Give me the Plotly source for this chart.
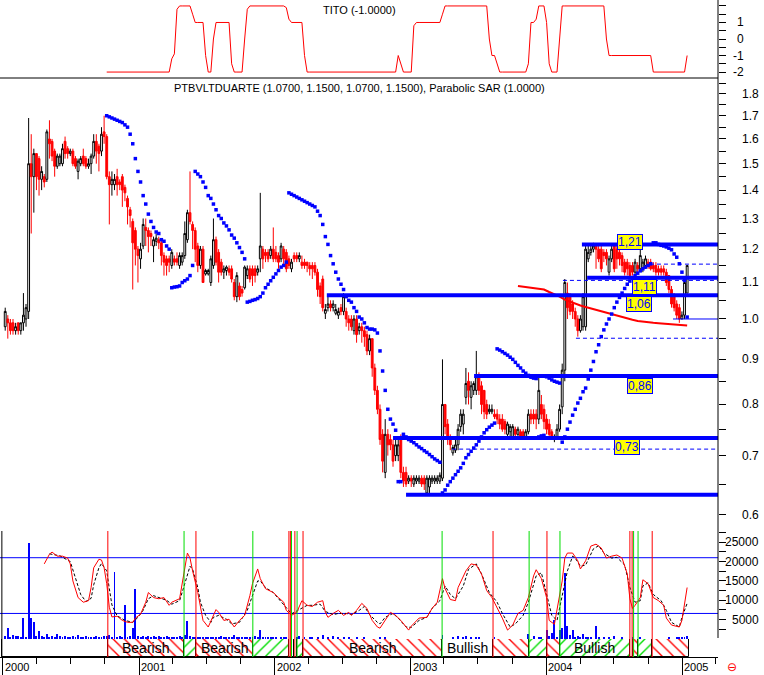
"""Weekly candlestick chart of PTBVLTDUARTE with TITO, Parabolic SAR and oscillator panels."""

import numpy as np
import pandas as pd
import plotly.graph_objects as go

# ---------------------------------------------------------------- data
week0 = "2000-01-07"
n_weeks = 263

price_open = [
    0.98, 1.00, 0.99, 0.99, 0.97, 0.99, 0.97, 0.99, 1.00, 1.02, 1.50, 1.45, 1.54,
    1.52, 1.44, 1.45, 1.44, 1.60, 1.59, 1.55, 1.49, 1.50, 1.50, 1.59, 1.56, 1.54,
    1.55, 1.52, 1.47, 1.50, 1.53, 1.52, 1.49, 1.50, 1.53, 1.59, 1.57, 1.55, 1.63,
    1.61, 1.45, 1.42, 1.42, 1.45, 1.43, 1.45, 1.41, 1.37, 1.33, 1.29, 1.26, 1.20,
    1.17, 1.21, 1.27, 1.26, 1.25, 1.21, 1.225, 1.23, 1.22, 1.18, 1.17, 1.17, 1.15,
    1.17, 1.17, 1.15, 1.16, 1.18, 1.23, 1.32, 1.28, 1.26, 1.21, 1.15, 1.20, 1.125,
    1.125, 1.10, 1.15, 1.23, 1.19, 1.16, 1.13, 1.135, 1.14, 1.14, 1.10, 1.06, 1.09,
    1.08, 1.085, 1.12, 1.14, 1.14, 1.14, 1.13, 1.17, 1.20, 1.19, 1.19, 1.18, 1.20,
    1.19, 1.18, 1.17, 1.20, 1.19, 1.17, 1.14, 1.18, 1.18, 1.17, 1.16, 1.16, 1.16,
    1.15, 1.15, 1.15, 1.13, 1.09, 1.11, 1.015, 1.03, 1.04, 1.03, 1.015, 1.01, 1.03,
    1.02, 1.02, 1.00, 1.00, 0.97, 1.00, 0.97, 0.98, 0.97, 0.96, 0.92, 0.95, 0.88,
    0.83, 0.79, 0.74, 0.67, 0.74, 0.73, 0.72, 0.70, 0.70, 0.73, 0.67, 0.67, 0.655,
    0.66, 0.65, 0.655, 0.655, 0.66, 0.66, 0.635, 0.645, 0.655, 0.655, 0.655, 0.655, 0.66,
    0.80, 0.76, 0.73, 0.705, 0.71, 0.72, 0.755, 0.76, 0.815, 0.85, 0.815, 0.83, 0.83,
    0.86, 0.84, 0.83, 0.80, 0.785, 0.785, 0.78, 0.78, 0.77, 0.77, 0.765, 0.74, 0.745,
    0.735, 0.75, 0.74, 0.745, 0.745, 0.735, 0.745, 0.78, 0.78, 0.78, 0.77, 0.80, 0.79,
    0.77, 0.76, 0.745, 0.73, 0.735, 0.75, 0.795, 0.875, 1.07, 1.06, 1.04, 1.02, 1.00,
    0.97, 0.98, 0.98, 1.17, 1.19, 1.20, 1.21, 1.20, 1.20, 1.19, 1.19, 1.13, 1.17,
    1.21, 1.20, 1.19, 1.18, 1.16, 1.16, 1.15, 1.15, 1.13, 1.15, 1.14, 1.14, 1.15,
    1.16, 1.16, 1.15, 1.15, 1.14, 1.14, 1.14, 1.13, 1.12, 1.08, 1.06, 1.04, 1.03,
    1.00, 1.01, 1.07,
]
price_high = [
    1.03, 1.01, 1.00, 1.00, 0.99, 0.99, 0.99, 1.07, 1.04, 1.69, 1.62, 1.56, 1.54,
    1.53, 1.49, 1.46, 1.64, 1.68, 1.60, 1.56, 1.54, 1.54, 1.58, 1.61, 1.57, 1.56,
    1.56, 1.53, 1.52, 1.53, 1.56, 1.53, 1.52, 1.54, 1.62, 1.62, 1.58, 1.65, 1.70,
    1.62, 1.47, 1.47, 1.46, 1.48, 1.44, 1.46, 1.42, 1.38, 1.34, 1.30, 1.27, 1.21,
    1.22, 1.30, 1.30, 1.27, 1.26, 1.24, 1.25, 1.24, 1.23, 1.19, 1.18, 1.18, 1.20,
    1.18, 1.19, 1.19, 1.19, 1.29, 1.33, 1.47, 1.29, 1.27, 1.22, 1.21, 1.21, 1.14,
    1.14, 1.18, 1.30, 1.24, 1.20, 1.17, 1.15, 1.15, 1.15, 1.15, 1.11, 1.13, 1.10,
    1.09, 1.15, 1.15, 1.15, 1.15, 1.15, 1.15, 1.39, 1.21, 1.20, 1.20, 1.21, 1.27,
    1.21, 1.19, 1.22, 1.21, 1.20, 1.18, 1.17, 1.19, 1.19, 1.19, 1.18, 1.17, 1.16,
    1.16, 1.16, 1.16, 1.14, 1.10, 1.12, 1.04, 1.06, 1.05, 1.05, 1.04, 1.03, 1.04,
    1.07, 1.03, 1.01, 1.01, 1.01, 1.01, 0.99, 0.99, 0.98, 0.97, 0.96, 0.95, 0.89,
    0.84, 0.80, 0.75, 0.77, 0.75, 0.74, 0.73, 0.73, 0.73, 0.74, 0.68, 0.68, 0.665,
    0.665, 0.665, 0.665, 0.665, 0.665, 0.665, 0.665, 0.665, 0.665, 0.665, 0.665, 0.67, 0.90,
    0.80, 0.77, 0.74, 0.72, 0.73, 0.76, 0.79, 0.79, 0.88, 0.87, 0.85, 0.85, 0.92,
    0.87, 0.85, 0.83, 0.81, 0.80, 0.80, 0.79, 0.79, 0.78, 0.78, 0.77, 0.765, 0.76,
    0.76, 0.755, 0.755, 0.75, 0.75, 0.75, 0.79, 0.79, 0.79, 0.79, 0.86, 0.82, 0.80,
    0.78, 0.77, 0.75, 0.74, 0.76, 0.80, 0.89, 1.11, 1.10, 1.07, 1.05, 1.03, 1.01,
    1.01, 1.07, 1.21, 1.21, 1.21, 1.22, 1.21, 1.21, 1.21, 1.20, 1.20, 1.18, 1.21,
    1.21, 1.21, 1.20, 1.19, 1.17, 1.17, 1.16, 1.16, 1.17, 1.16, 1.21, 1.17, 1.18,
    1.17, 1.17, 1.16, 1.16, 1.15, 1.15, 1.15, 1.14, 1.12, 1.09, 1.07, 1.05, 1.04,
    1.02, 1.11, 1.15,
]
price_low = [
    0.97, 0.95, 0.96, 0.96, 0.96, 0.96, 0.96, 0.97, 0.98, 1.00, 1.25, 1.32, 1.40,
    1.38, 1.40, 1.41, 1.43, 1.52, 1.51, 1.45, 1.48, 1.49, 1.49, 1.52, 1.52, 1.53,
    1.49, 1.48, 1.44, 1.49, 1.49, 1.48, 1.48, 1.46, 1.52, 1.50, 1.47, 1.53, 1.58,
    1.44, 1.28, 1.38, 1.40, 1.38, 1.40, 1.34, 1.36, 1.28, 1.27, 1.08, 1.15, 1.10,
    1.14, 1.20, 1.21, 1.19, 1.21, 1.16, 1.21, 1.20, 1.15, 1.12, 1.12, 1.13, 1.14,
    1.15, 1.15, 1.14, 1.15, 1.17, 1.22, 1.28, 1.20, 1.16, 1.13, 1.14, 1.10, 1.12,
    1.12, 1.09, 1.14, 1.15, 1.10, 1.12, 1.11, 1.12, 1.12, 1.10, 1.05, 1.045, 1.05,
    1.06, 1.08, 1.11, 1.10, 1.09, 1.10, 1.12, 1.13, 1.14, 1.16, 1.16, 1.17, 1.16,
    1.16, 1.14, 1.16, 1.15, 1.13, 1.14, 1.13, 1.16, 1.16, 1.16, 1.14, 1.14, 1.13,
    1.12, 1.11, 1.12, 1.06, 1.04, 1.02, 1.00, 1.02, 1.02, 1.02, 1.01, 1.00, 1.01,
    1.01, 0.98, 0.97, 0.97, 0.96, 0.94, 0.96, 0.94, 0.93, 0.91, 0.91, 0.86, 0.82,
    0.78, 0.72, 0.67, 0.66, 0.70, 0.71, 0.68, 0.69, 0.69, 0.66, 0.645, 0.645, 0.65,
    0.645, 0.645, 0.65, 0.65, 0.645, 0.64, 0.63, 0.635, 0.65, 0.65, 0.65, 0.65, 0.655,
    0.74, 0.72, 0.71, 0.70, 0.705, 0.71, 0.745, 0.74, 0.80, 0.80, 0.79, 0.82, 0.82,
    0.82, 0.78, 0.77, 0.77, 0.78, 0.78, 0.77, 0.76, 0.75, 0.745, 0.74, 0.73, 0.735,
    0.73, 0.73, 0.735, 0.73, 0.73, 0.73, 0.74, 0.76, 0.76, 0.75, 0.76, 0.77, 0.75,
    0.74, 0.73, 0.73, 0.725, 0.73, 0.745, 0.78, 0.85, 1.00, 1.01, 1.00, 0.98, 0.955,
    0.965, 0.97, 0.97, 1.16, 1.18, 1.19, 1.14, 1.16, 1.13, 1.16, 1.15, 1.12, 1.16,
    1.13, 1.14, 1.15, 1.13, 1.12, 1.12, 1.11, 1.12, 1.12, 1.13, 1.13, 1.13, 1.14,
    1.14, 1.135, 1.13, 1.12, 1.12, 1.12, 1.12, 1.09, 1.07, 1.03, 1.02, 1.00, 0.99,
    1.00, 1.00, 1.07,
]
price_close = [
    1.02, 0.99, 0.97, 0.97, 0.98, 0.97, 0.99, 1.01, 1.03, 1.50, 1.45, 1.54, 1.45,
    1.44, 1.47, 1.43, 1.63, 1.58, 1.53, 1.49, 1.53, 1.53, 1.56, 1.54, 1.54, 1.55,
    1.50, 1.49, 1.51, 1.52, 1.50, 1.49, 1.50, 1.53, 1.59, 1.55, 1.54, 1.62, 1.61,
    1.45, 1.42, 1.44, 1.44, 1.42, 1.42, 1.40, 1.39, 1.34, 1.31, 1.22, 1.20, 1.18,
    1.20, 1.28, 1.26, 1.24, 1.24, 1.23, 1.235, 1.22, 1.18, 1.16, 1.15, 1.16, 1.19,
    1.16, 1.16, 1.18, 1.18, 1.25, 1.32, 1.29, 1.26, 1.20, 1.15, 1.20, 1.10, 1.135,
    1.135, 1.17, 1.23, 1.16, 1.13, 1.13, 1.14, 1.145, 1.13, 1.11, 1.06, 1.12, 1.06,
    1.07, 1.145, 1.14, 1.11, 1.12, 1.12, 1.14, 1.21, 1.17, 1.18, 1.17, 1.20, 1.17,
    1.17, 1.16, 1.21, 1.17, 1.14, 1.15, 1.16, 1.17, 1.17, 1.18, 1.15, 1.15, 1.15,
    1.14, 1.14, 1.13, 1.08, 1.06, 1.03, 1.025, 1.04, 1.03, 1.04, 1.025, 1.02, 1.02,
    1.06, 1.00, 0.99, 0.98, 1.00, 0.96, 0.98, 0.97, 0.955, 0.92, 0.95, 0.88, 0.83,
    0.79, 0.73, 0.69, 0.74, 0.72, 0.72, 0.69, 0.72, 0.72, 0.67, 0.655, 0.65, 0.66,
    0.655, 0.66, 0.66, 0.66, 0.65, 0.65, 0.66, 0.66, 0.66, 0.66, 0.66, 0.665, 0.80,
    0.755, 0.73, 0.72, 0.715, 0.72, 0.75, 0.78, 0.78, 0.845, 0.83, 0.84, 0.845, 0.86,
    0.83, 0.80, 0.785, 0.78, 0.79, 0.79, 0.775, 0.77, 0.76, 0.75, 0.75, 0.76, 0.755,
    0.755, 0.74, 0.75, 0.735, 0.735, 0.745, 0.78, 0.77, 0.77, 0.77, 0.83, 0.78, 0.765,
    0.75, 0.74, 0.735, 0.735, 0.75, 0.79, 0.875, 1.10, 1.03, 1.02, 1.02, 1.00, 0.97,
    1.00, 1.06, 1.20, 1.19, 1.20, 1.21, 1.20, 1.17, 1.14, 1.18, 1.17, 1.17, 1.20,
    1.14, 1.17, 1.17, 1.15, 1.13, 1.14, 1.12, 1.13, 1.16, 1.14, 1.18, 1.16, 1.17,
    1.15, 1.14, 1.14, 1.13, 1.13, 1.13, 1.13, 1.10, 1.08, 1.04, 1.03, 1.01, 1.00,
    1.01, 1.10, 1.15,
]

# Parabolic SAR, one value per week from week 39 on
sar_start = 39
sar_vals = [
    1.70, 1.695, 1.69, 1.685, 1.68, 1.675, 1.67, 1.66, 1.65, 1.62, 1.58, 1.52, 1.47,
    1.43, 1.38, 1.35, 1.315, 1.29, 1.27, 1.255, 1.25, 1.23, 1.225, 1.21, 1.20,
    1.085, 1.087, 1.088, 1.09, 1.10, 1.105, 1.11, 1.12, 1.15,
    1.47, 1.46, 1.45, 1.43, 1.41, 1.38, 1.37, 1.35, 1.33, 1.31, 1.30, 1.285, 1.275,
    1.262, 1.245, 1.235, 1.22, 1.205, 1.19, 1.17,
    1.045, 1.047, 1.05, 1.052, 1.055, 1.06, 1.07, 1.085, 1.095, 1.105, 1.115, 1.125,
    1.135, 1.145, 1.15, 1.16,
    1.39, 1.385, 1.38, 1.375, 1.37, 1.365, 1.36, 1.355, 1.35, 1.345, 1.34, 1.325, 1.31,
    1.28, 1.24, 1.215, 1.18, 1.155, 1.13, 1.11, 1.095, 1.08, 1.06, 1.05, 1.045, 1.03,
    1.02, 1.005, 1.0, 0.99, 0.978, 0.974, 0.974, 0.972, 0.964, 0.92, 0.873, 0.83, 0.79,
    0.77, 0.76, 0.748,
    0.654, 0.654,
    0.74, 0.735, 0.73, 0.727, 0.724, 0.72, 0.716, 0.713, 0.709, 0.706, 0.702, 0.698,
    0.694, 0.691, 0.688,
    0.635, 0.64, 0.648, 0.654, 0.66, 0.666, 0.672, 0.678, 0.686, 0.696, 0.702, 0.708,
    0.714, 0.72, 0.727, 0.735, 0.743, 0.749, 0.754, 0.758, 0.762,
    0.925, 0.922, 0.918, 0.914, 0.91, 0.905, 0.90, 0.893, 0.886, 0.88, 0.873, 0.868,
    0.863, 0.859, 0.857, 0.856,
    0.735, 0.737, 0.738,
    0.86, 0.857, 0.853, 0.85, 0.848, 0.846,
    0.725, 0.735, 0.75, 0.764, 0.778, 0.79, 0.803, 0.813, 0.827, 0.835, 0.855, 0.875,
    0.895, 0.918, 0.935, 0.955, 0.972, 0.987, 1.0, 1.013, 1.03, 1.045, 1.058, 1.07,
    1.083, 1.095, 1.104, 1.112, 1.12, 1.127, 1.134, 1.14, 1.145, 1.15, 1.155,
    1.22, 1.22, 1.215, 1.212, 1.21, 1.207, 1.203, 1.198, 1.185, 1.175, 1.155, 1.13, 1.106,
    1.005,
]

# red moving average
ma_week = [197, 199, 201, 203, 205, 207, 209, 211, 213, 215, 217, 219, 221, 223, 225, 227, 229,
           231, 233, 235, 237, 239, 241, 243, 245, 247, 249, 251, 253, 255, 257, 259, 261, 262]
ma_vals = [1.09, 1.088, 1.087, 1.085, 1.083, 1.08, 1.073, 1.067, 1.06, 1.052, 1.046, 1.04, 1.036,
           1.032, 1.028, 1.024, 1.02, 1.016, 1.012, 1.008, 1.005, 1.001, 0.998, 0.995, 0.993,
           0.991, 0.99, 0.989, 0.988, 0.986, 0.985, 0.984, 0.983, 0.983]

# TITO indicator, weekly from week 39
tito_start = 39
tito_vals = [
    -2, -2, -2, -2, -2, -2, -2, -2, -2, -2, -2, -2, -2, -2, -2, -2, -2, -2, -2, -2, -2, -2, -2, -2,
    -2, -1.2, -0.9, 1.8, 2, 2, 2, 2, 2, 1.5, 1, 1, 1, 1, -1, -2, -2, 0, 1, 1, 1, 1, 1, 1,
    -1.5, -2, -2, -2, -2, 0, 1.8, 2, 2, 2, 2, 2, 2, 2, 2, 2, 2, 2, 2, 2, 2, 1.9, 1.2,
    1, 1, 1, 1, 1, -1,
    -2, -2, -2, -2, -2, -2, -2, -2, -2, -2, -2, -2, -2, -2, -2, -2, -2, -2, -2, -2, -2, -2, -2,
    -2, -2, -2, -2, -2, -2, -2, -2, -2, -2, -2, -2,
    -1, -1.5, -2, -2, -2, -2, 0.8, 1, 1, 1, 1, 1, 1, 1, 1, 1, 1, 1.5,
    2, 2, 2, 2, 2, 2, 2, 2, 2, 2, 2, 2, 2, 2, 2, 2, 2, 0, -1, -1, -1.5,
    -2, -2, -2, -2, -2, -2, -2, -2, -2, -2, -2, -1.5, 1, 1, 1.2, 2, 2, 2, 1, -1.5, -2, -2, -2, 0,
    2, 2, 2, 2, 2, 2, 2, 2, 2, 2, 2, 2, 2, 2, 2, 2, 2, 0,
    -1, -1, -1, -1, -1, -1, -1, -1, -1, -1, -1, -1, -1, -1, -1, -1, -1,
    -2, -2, -2, -2, -2, -2, -2, -2, -2, -2, -2, -2, -2, -1,
]

# oscillator (solid red) and its signal line (dashed black)
osc_week = [15, 17, 18, 20, 22, 24, 25, 26, 28, 30, 32, 33, 34, 36, 37, 38, 39, 40, 41, 43, 45,
            47, 49, 50, 52, 54, 55, 57, 59, 61, 63, 64, 67, 68, 69, 70, 71, 72, 74, 75, 76, 78,
            80, 81, 82, 84, 86, 88, 90, 92, 94, 95, 97, 98, 100, 103, 105, 107, 108, 110, 112,
            114, 116, 118, 120, 122, 123, 124, 126, 128, 130, 132, 133, 135, 137, 139, 141, 143,
            144, 146, 148, 150, 152, 155, 156, 159, 162, 164, 166, 168, 169, 171, 173, 174, 177,
            179, 181, 183, 185, 187, 189, 191, 193, 195, 197, 199, 201, 203, 204, 206, 208, 209,
            211, 212, 214, 215, 216, 218, 220, 221, 223, 225, 227, 229, 231, 233, 235, 237, 239,
            240, 241, 242, 244, 245, 247, 249, 251, 253, 254, 256, 259, 260, 261, 262]
osc_vals = [19400, 21900, 22450, 21400, 21400, 20900, 19400, 15000, 10700, 9500, 9900, 13300,
            18400, 20600, 20400, 18400, 14300, 8200, 5700, 5900, 4800, 4300, 4300, 5400, 6400,
            9500, 12000, 10700, 10400, 10700, 8700, 9500, 10400, 14300, 17600, 22200, 20900,
            17600, 12000, 8200, 4800, 3100, 6100, 7600, 6900, 4800, 5100, 3100, 4800, 6100,
            11200, 14300, 18100, 15600, 13000, 12000, 10700, 9500, 7400, 6100, 6900, 9900, 8700,
            8400, 9500, 9900, 6900, 5600, 6600, 7400, 6100, 6900, 6100, 7400, 9200, 7900, 4800,
            3100, 2800, 4800, 6900, 6100, 4800, 2300, 3300, 5400, 5600, 7900, 9500, 15600, 13000,
            10200, 9900, 13300, 17600, 19400, 19100, 16800, 12500, 10700, 8200, 5400, 2300, 3600,
            6600, 7400, 10700, 16300, 17900, 15600, 10700, 4800, 3800, 7400, 15000, 20900, 22200,
            22200, 20200, 18100, 20200, 24000, 24500, 23500, 20900, 21400, 21700, 20900, 16800,
            10400, 7900, 8700, 10700, 15300, 14300, 10700, 9900, 8700, 5400, 3600, 3100, 4800,
            9500, 13300]
sig_week = [17, 21, 25, 27, 29, 31, 33, 34, 36, 37, 39, 40, 41, 43, 46, 49, 51, 53, 55, 57, 59,
            62, 64, 67, 69, 71, 72, 74, 75, 77, 79, 80, 82, 85, 87, 90, 93, 95, 97, 98, 100, 103,
            105, 108, 110, 113, 116, 118, 121, 123, 126, 128, 131, 133, 136, 138, 140, 143, 144,
            146, 149, 151, 154, 156, 159, 162, 164, 167, 169, 171, 173, 176, 178, 181, 183, 186,
            189, 191, 194, 196, 199, 201, 204, 206, 208, 210, 212, 214, 216, 218, 219, 221, 223,
            226, 228, 230, 233, 235, 238, 240, 242, 244, 245, 247, 249, 252, 254, 256, 259, 260,
            262]
sig_vals = [22000, 21500, 20000, 16000, 11500, 9700, 10500, 14000, 18400, 19500, 17600, 13000,
            8800, 6000, 4800, 4300, 5600, 7400, 10400, 11200, 10700, 10000, 9000, 9900, 14300,
            18800, 18000, 13300, 9500, 6100, 4300, 5600, 6100, 5100, 3900, 4300, 7400, 11200,
            15000, 15000, 13300, 12000, 10400, 8000, 6500, 7600, 8700, 8700, 9000, 7100, 6300,
            6600, 6600, 6300, 7400, 8400, 6300, 4300, 3900, 5600, 6600, 5400, 3100, 3000, 4800,
            5600, 7900, 9900, 13700, 11500, 10400, 13700, 18000, 19400, 16800, 12000, 9500, 6600,
            3100, 3900, 6100, 9500, 16300, 17100, 11500, 6100, 4800, 11200, 17600, 21400, 20900,
            18800, 19100, 23300, 24100, 22200, 20900, 21100, 19100, 13300, 9500, 9900, 13700,
            14500, 11500, 9900, 7400, 4300, 3100, 5600, 9200]
osc_levels = [21000, 6600]

volume = [
    800, 2800, 600, 1000, 900, 700, 600, 5400, 500, 24700, 5300, 4300, 900,
    2000, 700, 600, 1200, 500, 800, 600, 1300, 700, 500, 900, 600, 500,
    700, 500, 1000, 600, 400, 800, 500, 600, 400, 700, 500, 600, 900,
    700, 1100, 600, 17300, 500, 900, 400, 8700, 600, 700, 2800, 13000, 800,
    600, 700, 500, 800, 600, 700, 500, 900, 600, 500, 700, 600, 500,
    600, 500, 800, 400, 1100, 4600, 700, 600, 500, 400, 600, 500, 400,
    500, 400, 600, 500, 400, 700, 500, 400, 600, 500, 1100, 400, 500,
    400, 600, 500, 400, 500, 700, 400, 2300, 600, 400, 500, 400, 500,
    400, 0, 500, 300, 600, 0, 400, 0, 500, 900, 0, 400, 0,
    500, 300, 0, 400, 0, 1000, 0, 400, 0, 900, 0, 400, 0,
    300, 0, 400, 0, 0, 300, 0, 0, 400, 0, 0, 0, 0,
    0, 400, 0, 600, 0, 0, 0, 0, 0, 0, 0, 0, 0,
    0, 0, 0, 0, 0, 0, 0, 0, 0, 0, 0, 0, 1000,
    0, 0, 0, 500, 0, 700, 0, 400, 900, 0, 500, 0, 400,
    300, 0, 0, 0, 0, 0, 400, 0, 0, 0, 0, 0, 0,
    0, 0, 0, 0, 0, 0, 1400, 0, 900, 0, 500, 400, 0,
    2300, 900, 1500, 5000, 600, 2300, 2800, 17100, 3400, 1000, 2300, 500, 800,
    400, 1400, 500, 300, 600, 0, 3300, 400, 0, 300, 0, 600, 0,
    800, 0, 0, 400, 0, 0, 0, 400, 0, 0, 300, 0, 0,
    0, 0, 0, 0, 0, 0, 0, 0, 600, 0, 0, 300, 400,
    300, 500, 900,
]

# support / resistance levels drawn on the price panel
thick_levels = [1.215, 1.114, 1.064, 0.862, 0.733, 0.632]
thick_from = ["2004-04-06", "2004-04-20", "2002-05-21", "2003-06-21", "2002-11-15", "2002-12-20"]
dashed_levels = [1.154, 1.106, 0.951, 0.712]
dashed_from = ["2004-10-06", "2004-02-15", "2004-03-21", "2003-04-23"]
thin_level = 1.0
thin_from = "2004-12-07"

level_labels = ["1,21", "1,11", "1,06", "0,86", "0,73"]
label_dates = ["2004-08-12", "2004-09-21", "2004-09-07", "2004-09-08", "2004-08-04"]
label_prices = [1.2235, 1.087, 1.040, 0.840, 0.716]

# trend band (bearish / bullish periods)
band_start = ["1999-12-29", "2000-10-09", "2001-05-02", "2001-06-03", "2001-11-03",
              "2002-02-08", "2002-02-15", "2002-02-22", "2002-03-02", "2002-03-18",
              "2003-03-27", "2003-08-11", "2003-11-16", "2004-01-03", "2004-02-07",
              "2004-08-13", "2004-08-21", "2004-09-04", "2004-10-12"]
band_stop = "2005-01-19"
band_kind = ["none", "bear", "bull", "bear", "bull", "none", "none", "none", "bull", "bear",
             "none", "bear", "bull", "bear", "bull", "none", "bear", "bull", "bear"]
band_text = ["", "Bearish", "", "Bearish", "", "", "", "", "", "Bearish",
             "Bullish", "", "", "", "Bullish", "", "", "", ""]

red_signals = ["2000-10-09", "2001-06-03", "2002-02-08", "2002-02-12", "2002-02-24",
               "2002-03-18", "2003-08-11", "2004-01-03", "2004-08-13", "2004-08-19", "2004-10-12"]
green_signals = ["2001-05-02", "2001-11-03", "2002-02-15", "2002-03-02", "2003-03-27",
                 "2003-11-16", "2004-02-07", "2004-08-23", "2004-09-04"]

main_ticks = [0.60, 0.65, 0.70, 0.75, 0.80, 0.85, 0.90, 0.95, 1.00, 1.05, 1.10, 1.15, 1.20,
              1.25, 1.30, 1.35, 1.40, 1.45, 1.50, 1.55, 1.60, 1.65, 1.70, 1.75, 1.80, 1.85]
main_labels = [0.6, 0.7, 0.8, 0.9, 1.0, 1.1, 1.2, 1.3, 1.4, 1.5, 1.6, 1.7, 1.8]
tito_ticks = [-2, -1.5, -1, -0.5, 0, 0.5, 1, 1.5, 2]
tito_labels = [-2, -1, 0, 1]
osc_ticks = [2500, 5000, 7500, 10000, 12500, 15000, 17500, 20000, 22500, 25000, 27500]
osc_labels = [5000, 10000, 15000, 20000, 25000]
years = ["2000", "2001", "2002", "2003", "2004", "2005"]

for name, arr in [("open", price_open), ("high", price_high), ("low", price_low),
                  ("close", price_close), ("volume", volume)]:
    if len(arr) != n_weeks:
        raise ValueError(f"{name} has {len(arr)} values")
if len(sar_vals) != n_weeks - sar_start or len(tito_vals) != n_weeks - tito_start:
    raise ValueError(f"sar {len(sar_vals)} tito {len(tito_vals)}")
if len(osc_week) != len(osc_vals) or len(sig_week) != len(sig_vals):
    raise ValueError(f"osc {len(osc_week)}/{len(osc_vals)} sig {len(sig_week)}/{len(sig_vals)}")

# ---------------------------------------------------------------- layout constants
BLUE = "#0000FF"
RED = "#FF0000"
GREEN = "#00DD00"
FONT = "Liberation Sans, Arial, sans-serif"
X_RANGE = ["1999-12-24", "2005-04-07"]

PLOT_H = 657  # plot area height in px (675 - bottom margin)


def py(y_px):
    """Pixel row -> paper fraction of the plot area."""
    return (PLOT_H - y_px) / PLOT_H


dates = pd.date_range(week0, periods=n_weeks, freq="7D")

fig = go.Figure()

# ---------------------------------------------------------------- TITO panel
fig.add_trace(go.Scatter(x=dates[tito_start:], y=tito_vals, mode="lines",
                         line=dict(color=RED, width=1), yaxis="y", hoverinfo="skip"))

# ---------------------------------------------------------------- price panel
fig.add_trace(go.Candlestick(
    x=dates, open=price_open, high=price_high, low=price_low, close=price_close,
    yaxis="y2", whiskerwidth=0,
    increasing=dict(line=dict(color="black", width=1), fillcolor="white"),
    decreasing=dict(line=dict(color=RED, width=1), fillcolor=RED),
    hoverinfo="skip",
))
fig.add_trace(go.Scatter(x=dates[ma_week], y=ma_vals, mode="lines",
                         line=dict(color=RED, width=2), yaxis="y2", hoverinfo="skip"))

for lvl, start in zip(dashed_levels, dashed_from):
    fig.add_trace(go.Scatter(x=[start, X_RANGE[1]], y=[lvl, lvl], mode="lines",
                             line=dict(color=BLUE, width=1, dash="4px,3px"), yaxis="y2",
                             hoverinfo="skip"))
fig.add_trace(go.Scatter(x=[thin_from, X_RANGE[1]], y=[thin_level, thin_level], mode="lines",
                         line=dict(color=BLUE, width=1), yaxis="y2", hoverinfo="skip"))
for lvl, start in zip(thick_levels, thick_from):
    fig.add_trace(go.Scatter(x=[start, X_RANGE[1]], y=[lvl, lvl], mode="lines",
                             line=dict(color=BLUE, width=4), yaxis="y2", hoverinfo="skip"))

fig.add_trace(go.Scatter(x=dates[sar_start:], y=sar_vals, mode="markers",
                         marker=dict(symbol="square", size=3.5, color=BLUE, line=dict(width=0)),
                         yaxis="y2", hoverinfo="skip"))

# ---------------------------------------------------------------- oscillator panel
fig.add_trace(go.Bar(x=dates, y=volume, width=2.5 * 86400000, marker=dict(color=BLUE, line=dict(width=0)),
                     yaxis="y3", hoverinfo="skip"))
for lvl in osc_levels:
    fig.add_trace(go.Scatter(x=X_RANGE, y=[lvl, lvl], mode="lines",
                             line=dict(color=BLUE, width=1), yaxis="y3", hoverinfo="skip"))
fig.add_trace(go.Scatter(x=dates[sig_week], y=sig_vals, mode="lines",
                         line=dict(color="black", width=1, dash="3px,2px"), yaxis="y3",
                         hoverinfo="skip"))
fig.add_trace(go.Scatter(x=dates[osc_week], y=osc_vals, mode="lines",
                         line=dict(color=RED, width=1), yaxis="y3", hoverinfo="skip"))

# ---------------------------------------------------------------- trend band
b_start = pd.to_datetime(band_start)
b_end = pd.to_datetime(band_start[1:] + [band_stop])
b_mid = b_start + (b_end - b_start) / 2
b_width = [(e - s).total_seconds() * 1000 for s, e in zip(b_start, b_end)]
shape_map = {"none": "", "bear": "\\", "bull": "/"}
fg_map = {"none": "white", "bear": RED, "bull": GREEN}
fig.add_trace(go.Bar(
    x=b_mid, y=[1] * len(band_start), base=0, width=b_width, yaxis="y4",
    marker=dict(color="white", line=dict(color="black", width=1),
                pattern=dict(shape=[shape_map[k] for k in band_kind],
                             fgcolor=[fg_map[k] for k in band_kind],
                             bgcolor="white", fgopacity=1, size=8, solidity=0.17)),
    hoverinfo="skip",
))

annotations = []
for mid, txt in zip(b_mid, band_text):
    if txt:
        annotations.append(dict(x=mid, y=0.5, xref="x", yref="y4", text=txt, showarrow=False,
                                font=dict(size=14, color="black", family=FONT)))

# yellow level labels (log axis -> log10 coordinates)
for txt, d, p in zip(level_labels, label_dates, label_prices):
    annotations.append(dict(x=d, y=np.log10(p), xref="x", yref="y2", text=txt, showarrow=False,
                            font=dict(size=12, color=BLUE, family=FONT), bgcolor="#FFFF00",
                            bordercolor=BLUE, borderwidth=1, borderpad=0))

# axis labels drawn as text to get the original alignment
for v in main_labels:
    annotations.append(dict(x=1, y=np.log10(v), xref="paper", yref="y2", text=f"{v:.1f}",
                            xanchor="left", xshift=22, showarrow=False,
                            font=dict(size=12, family=FONT)))
for v in tito_labels:
    annotations.append(dict(x=1, y=v, xref="paper", yref="y", text=str(v), xanchor="right",
                            xshift=28, showarrow=False, font=dict(size=12, family=FONT)))
for v in osc_labels:
    annotations.append(dict(x=1, y=v, xref="paper", yref="y3", text=str(v), xanchor="right",
                            xshift=43, showarrow=False, font=dict(size=12, family=FONT)))
for yr in years:
    annotations.append(dict(x=f"{yr}-01-01", y=py(667), xref="x", yref="paper", text=yr,
                            xanchor="left", yanchor="middle", xshift=0, showarrow=False,
                            font=dict(size=11, family=FONT)))

annotations.append(dict(x=0.5, y=py(10), xref="paper", yref="paper", text="TITO (-1.0000)",
                        yanchor="middle", showarrow=False, font=dict(size=11, family=FONT)))
annotations.append(dict(x=0.5, y=py(88), xref="paper", yref="paper", yanchor="middle",
                        text="PTBVLTDUARTE (1.0700, 1.1500, 1.0700, 1.1500), Parabolic SAR (1.0000)",
                        showarrow=False, font=dict(size=11, family=FONT)))
annotations.append(dict(x=739 / 718, y=py(667), xref="paper", yref="paper", text="⊖",
                        yanchor="middle", showarrow=False,
                        font=dict(size=12, color=RED, family="DejaVu Sans")))

shapes = [
    # divider under the TITO panel and the right-hand axis line
    dict(type="line", xref="paper", yref="paper", x0=0, x1=1, y0=py(78), y1=py(78),
         line=dict(color="black", width=1)),
    dict(type="line", xref="paper", yref="paper", x0=1, x1=1, y0=py(638), y1=1,
         line=dict(color="black", width=1)),
    dict(type="line", xref="x", yref="paper", x0=band_start[0], x1=band_start[0],
         y0=0, y1=py(531), line=dict(color="black", width=1)),
]
for d in red_signals:
    shapes.append(dict(type="line", xref="x", yref="paper", x0=d, x1=d, y0=0, y1=py(531),
                       line=dict(color=RED, width=1)))
for d in green_signals:
    shapes.append(dict(type="line", xref="x", yref="paper", x0=d, x1=d, y0=0, y1=py(531),
                       line=dict(color=GREEN, width=1)))

yaxis_common = dict(anchor="x", side="right", showgrid=False, zeroline=False, showline=False,
                    ticks="outside", ticklen=7, tickwidth=1, tickcolor="black",
                    showticklabels=False, tickmode="array", fixedrange=True)

fig.update_layout(
    width=764, height=675,
    margin=dict(l=0, r=46, t=0, b=18),
    paper_bgcolor="white", plot_bgcolor="white",
    showlegend=False, boxgap=0, bargap=0,
    font=dict(family=FONT, size=11, color="black"),
    xaxis=dict(type="date", range=X_RANGE, domain=[0, 1], anchor="y4", showgrid=False,
               zeroline=False, showline=True, linecolor="black", linewidth=1,
               ticks="outside", tickmode="array", tickvals=[f"{y}-01-01" for y in years],
               ticklen=18, tickcolor="black", showticklabels=False,
               minor=dict(ticks="outside", ticklen=6, dtick="M3", tick0="2000-01-01",
                          tickcolor="black", showgrid=False),
               rangeslider=dict(visible=False), fixedrange=True),
    yaxis=dict(domain=[py(78), 1], range=[-2.36, 2.36], tickvals=tito_ticks, **yaxis_common),
    yaxis2=dict(domain=[py(529), py(79)], type="log", range=[-0.2381, 0.2721],
                tickvals=main_ticks, **yaxis_common),
    yaxis3=dict(domain=[py(639), py(531)], range=[0, 27900], tickvals=osc_ticks, **yaxis_common),
    yaxis4=dict(domain=[0, py(639)], range=[0, 1], anchor="x", visible=False, fixedrange=True),
    annotations=annotations,
    shapes=shapes,
)

# the page's default body margin would shift the figure by 8px
fig.write_html("out.html", config={"displayModeBar": False},
               post_script="document.body.style.margin = '0';")
